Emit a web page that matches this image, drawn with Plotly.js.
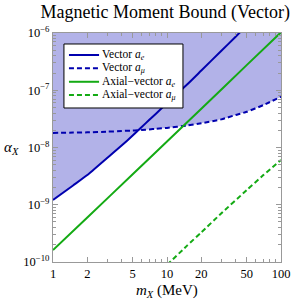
<!DOCTYPE html>
<html>
<head>
<meta charset="utf-8">
<script src="https://cdn.plot.ly/plotly-3.0.1.min.js"></script>
<style>html,body{margin:0;padding:0;background:#fff;}#chart{width:292px;height:300px;}</style>
</head>
<body>
<div id="chart"></div>
<script>
// mass grid (MeV)
const massGrid = [1, 1.5, 2, 3, 4, 5, 5.5, 6, 7, 8, 10, 15, 20, 30, 40, 50, 70, 100];
// Vector a_e bound
const vectorAe = [1.21e-9, 2.17e-9, 3.3e-9, 6.6e-9, 1.08e-8, 1.62e-8, 1.94e-8, 2.28e-8, 3.05e-8, 3.9e-8, 5.95e-8, 1.26e-7, 2.21e-7, 4.9e-7, 8.6e-7, 1.35e-6, 2.6e-6, 5.3e-6];
// Vector a_mu bound
const vectorAmu = [1.80e-8, 1.82e-8, 1.84e-8, 1.89e-8, 1.94e-8, 1.98e-8, 2.0e-8, 2.02e-8, 2.07e-8, 2.12e-8, 2.2e-8, 2.42e-8, 2.65e-8, 3.1e-8, 3.7e-8, 4.2e-8, 5.5e-8, 7.7e-8];
// Axial-vector a_e
const axialMassAe = [1, 2, 5, 10, 20, 50, 100];
const axialAe = [1.62e-10, 6.0e-10, 3.4e-9, 1.27e-8, 4.75e-8, 2.75e-7, 1.03e-6];
// Axial-vector a_mu
const axialMassAmu = [10, 15, 20, 30, 50, 70, 100];
const axialAmu = [8.9e-11, 1.93e-10, 3.3e-10, 7.1e-10, 1.8e-9, 3.3e-9, 6.05e-9];
// legend labels
const seriesNames = ['Vector <i>a<sub>e</sub></i>', 'Vector <i>a<sub>μ</sub></i>', 'Axial−vector <i>a<sub>e</sub></i>', 'Axial−vector <i>a<sub>μ</sub></i>'];
// ticks
const xTickVals = [1, 2, 5, 10, 20, 50, 100];
const xTickText = ['1', '2', '5', '10', '20', '50', '100'];
const yTickVals = [1e-10, 1e-9, 1e-8, 1e-7, 1e-6];
const yTickText = ['10<sup>−10</sup>', '10<sup>−9</sup>', '10<sup>−8</sup>', '10<sup>−7</sup>', '10<sup>−6</sup>'];
const yTop = 1e-5;

const blue = 'rgb(0,0,175)';
const green = 'rgb(20,170,20)';
const serif = 'Liberation Serif, Times New Roman, serif';
const dashPat = '5px,3px';

const boundary = massGrid.map((m, i) => Math.min(vectorAe[i], vectorAmu[i]));

const xMinor = [];
[1, 10].forEach(d => { for (let k = 2; k <= 9; k++) { if (![2, 5].includes(k)) xMinor.push(k * d); } });
const yMinor = [];
for (let e = -10; e < -6; e++) { for (let k = 2; k <= 9; k++) yMinor.push(k * Math.pow(10, e)); }

const styles = [
  {color: blue, width: 2},
  {color: blue, width: 2, dash: dashPat},
  {color: green, width: 2},
  {color: green, width: 2, dash: dashPat}
];
const seriesX = [massGrid, massGrid, axialMassAe, axialMassAmu];
const seriesY = [vectorAe, vectorAmu, axialAe, axialAmu];

const traces = [
  {x: massGrid, y: massGrid.map(() => yTop), mode: 'lines', line: {width: 0}, showlegend: false, hoverinfo: 'skip'},
  {x: massGrid, y: boundary, mode: 'lines', line: {width: 0, shape: 'spline', smoothing: 0.5}, fill: 'tonexty', fillcolor: 'rgba(0,0,180,0.3)', showlegend: false, hoverinfo: 'skip'}
];
seriesY.forEach((ys, i) => traces.push({x: seriesX[i], y: ys, mode: 'lines', name: seriesNames[i], line: Object.assign({shape: 'spline', smoothing: 0.5}, styles[i]), showlegend: false}));

// manual legend box (paper coordinates)
const lg = {x0: 0.048, x1: 0.570, y0: 0.6725, y1: 0.952, lineX0: 0.070, lineX1: 0.202, textX: 0.208, rows: [0.904, 0.846, 0.787, 0.729]};
const shapes = [{type: 'rect', xref: 'paper', yref: 'paper', x0: lg.x0, x1: lg.x1, y0: lg.y0, y1: lg.y1, fillcolor: '#fff', line: {color: '#000', width: 1}, layer: 'above'}];
const annotations = [];
seriesNames.forEach((n, i) => {
  shapes.push({type: 'line', xref: 'paper', yref: 'paper', x0: lg.lineX0, x1: lg.lineX1, y0: lg.rows[i], y1: lg.rows[i], line: styles[i], layer: 'above'});
  annotations.push({text: n, xref: 'paper', yref: 'paper', x: lg.textX, y: lg.rows[i], xanchor: 'left', yanchor: 'middle', showarrow: false, font: {family: serif, size: 11.5, color: '#000'}});
});
annotations.push({text: '<i>m<sub>X</sub></i> (MeV)', xref: 'paper', yref: 'paper', x: 0.5, y: -0.125, xanchor: 'center', yanchor: 'middle', showarrow: false, font: {family: serif, size: 15, color: '#000'}});
annotations.push({text: '<i>α<sub>X</sub></i>', xref: 'paper', yref: 'paper', x: -0.18, y: 0.5, xanchor: 'center', yanchor: 'middle', showarrow: false, font: {family: serif, size: 15, color: '#000'}});

const axisCommon = {
  type: 'log', showgrid: false, zeroline: false, showline: true, mirror: 'ticks',
  linecolor: '#999', linewidth: 1, ticks: 'inside', ticklen: 5, tickcolor: '#999', tickwidth: 1,
  tickfont: {family: serif, size: 12.5, color: '#000'}
};

const layout = {
  width: 292, height: 300,
  margin: {l: 53, r: 11, t: 33, b: 38},
  paper_bgcolor: '#fff', plot_bgcolor: '#fff',
  title: {text: 'Magnetic Moment Bound (Vector)', font: {family: serif, size: 18, color: '#000'}, x: 0.566, xanchor: 'center', y: 0.96, yanchor: 'middle'},
  xaxis: Object.assign({}, axisCommon, {range: [0, 2], tickmode: 'array', tickvals: xTickVals, ticktext: xTickText,
    minor: {tickmode: 'array', tickvals: xMinor, ticks: 'inside', ticklen: 3, tickcolor: '#999'}}),
  yaxis: Object.assign({}, axisCommon, {range: [-10, -6], tickmode: 'array', tickvals: yTickVals, ticktext: yTickText,
    minor: {tickmode: 'array', tickvals: yMinor, ticks: 'inside', ticklen: 3, tickcolor: '#999'}}),
  showlegend: false,
  shapes: shapes,
  annotations: annotations
};

Plotly.newPlot('chart', traces, layout, {displayModeBar: false, staticPlot: true});
</script>
</body>
</html>
